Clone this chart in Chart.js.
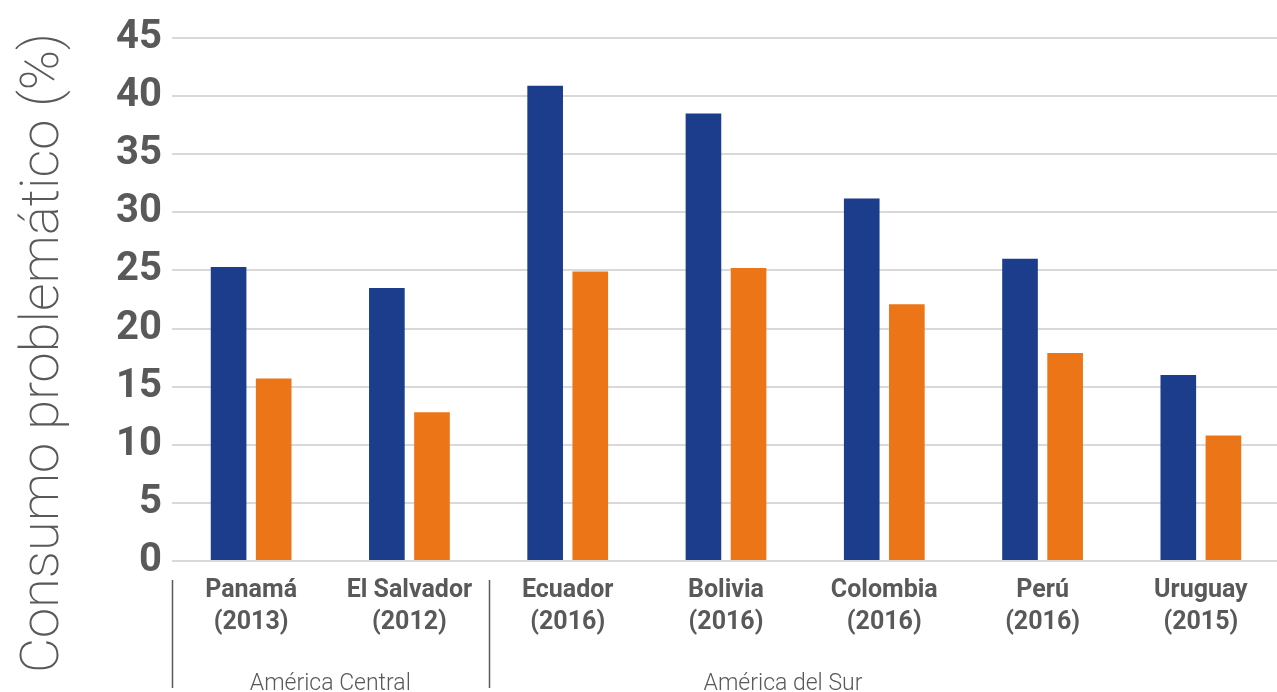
<!DOCTYPE html>
<html>
<head>
<meta charset="utf-8">
<script src="https://cdn.jsdelivr.net/npm/chart.js@4.4.1/dist/chart.umd.min.js"></script>
<style>
  html, body { margin: 0; padding: 0; background: #ffffff; overflow: hidden; }
  #wrap { width: 1280px; height: 692px; }
</style>
</head>
<body>
<div id="wrap"><canvas id="c" width="1280" height="692"></canvas></div>
<script>
// ---- data ----
const countries = ["Panamá", "El Salvador", "Ecuador", "Bolivia", "Colombia", "Perú", "Uruguay"];
const years = ["(2013)", "(2012)", "(2016)", "(2016)", "(2016)", "(2016)", "(2015)"];
const seriesBlue = [25.3, 23.5, 40.9, 38.5, 31.2, 26.0, 16.0];
const seriesOrange = [15.7, 12.8, 24.9, 25.2, 22.1, 17.9, 10.8];
const yTicks = [0, 5, 10, 15, 20, 25, 30, 35, 40, 45];
const groupLabels = ["América Central", "América del Sur"];
const groupStart = [0, 2];
const groupLabelAnchor = [0.5, 3.36];
const yTitle = "Consumo problemático (%)";

const labels = countries.map((c, i) => [c, years[i]]);
const TEXT = "#595959";

const groupPlugin = {
  id: "groups",
  afterDraw(chart) {
    const ctx = chart.ctx;
    const x = chart.scales.x;
    ctx.save();
    // separators
    ctx.strokeStyle = "#595959";
    ctx.lineWidth = 1.5;
    groupStart.forEach(s => {
      const px = Math.round(x.getPixelForValue(s - 0.5)) + 0.5;
      ctx.beginPath();
      ctx.moveTo(px, 580);
      ctx.lineTo(px, 688);
      ctx.stroke();
    });
    // group labels
    ctx.fillStyle = TEXT;
    ctx.font = "300 23px Roboto";
    ctx.textAlign = "center";
    ctx.textBaseline = "alphabetic";
    groupLabels.forEach((g, i) => {
      ctx.fillText(g, x.getPixelForValue(groupLabelAnchor[i]), 690);
    });
    // y title
    ctx.translate(44, 353);
    ctx.rotate(-Math.PI / 2);
    ctx.font = "200 100px Roboto";
    const w = ctx.measureText(yTitle).width;
    const size = 100 * 640 / w;
    ctx.font = "200 " + size.toFixed(1) + "px Roboto";
    ctx.textBaseline = "middle";
    ctx.fillText(yTitle, 0, 0);
    ctx.restore();
  }
};

new Chart(document.getElementById("c"), {
  type: "bar",
  data: {
    labels: labels,
    datasets: [
      { label: "Serie 1", data: seriesBlue, backgroundColor: "#1b3d8c", borderWidth: 0 },
      { label: "Serie 2", data: seriesOrange, backgroundColor: "#ec7518", borderWidth: 0 }
    ]
  },
  options: {
    responsive: false,
    animation: false,
    devicePixelRatio: 1,
    layout: { padding: { top: 38, left: 0, right: 0, bottom: 0 } },
    plugins: { legend: { display: false }, tooltip: { enabled: false } },
    datasets: { bar: { categoryPercentage: 0.57, barPercentage: 0.79 } },
    scales: {
      x: {
        grid: { display: false, drawTicks: false },
        border: { display: false },
        ticks: {
          color: TEXT,
          font: { family: "Roboto", weight: "bold", size: 25, lineHeight: 1.28 },
          padding: 14,
          maxRotation: 0,
          autoSkip: false
        },
        afterFit(scale) { scale.height = 692 - 38 - 523; }
      },
      y: {
        min: 0,
        max: 45,
        afterBuildTicks(scale) { scale.ticks = yTicks.map(v => ({ value: v })); },
        grid: { color: "#d9d9d9", lineWidth: 2, drawTicks: false },
        border: { display: false },
        ticks: {
          color: TEXT,
          font: { family: "Roboto", weight: "bold", size: 40 },
          padding: 10
        },
        afterFit(scale) { scale.width = 172; }
      }
    }
  },
  plugins: [groupPlugin]
});
</script>
</body>
</html>
